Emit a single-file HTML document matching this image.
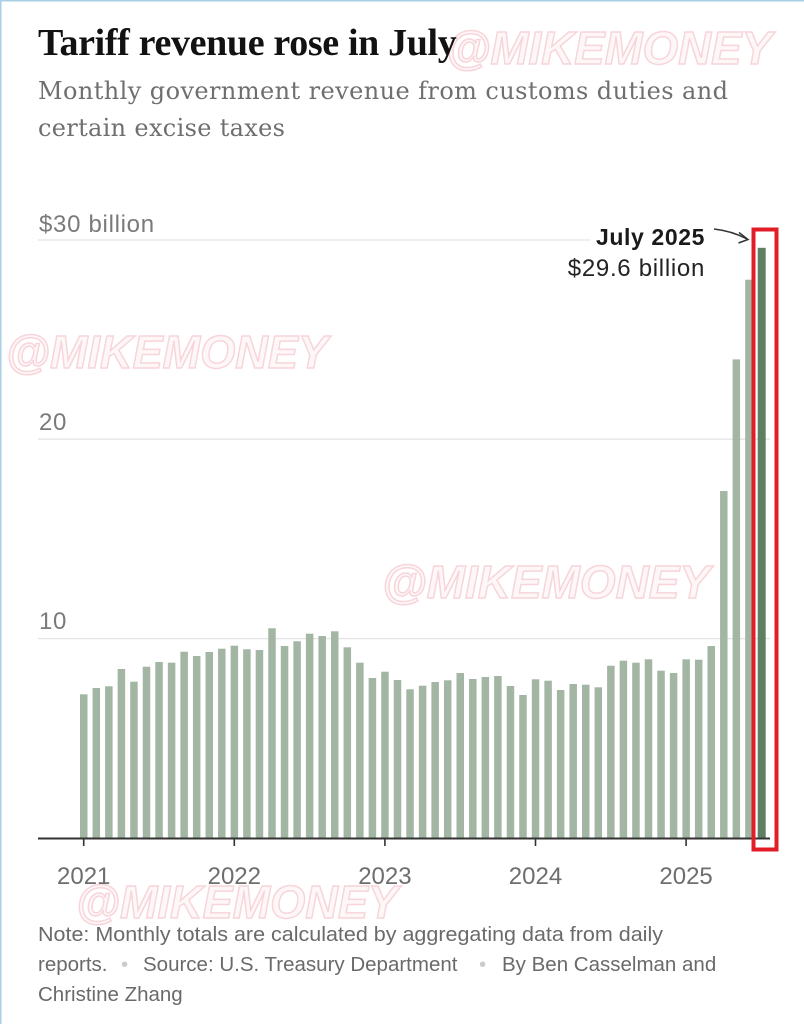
<!DOCTYPE html>
<html>
<head>
<meta charset="utf-8">
<style>
  html, body { margin: 0; padding: 0; background: #ffffff; }
  body { width: 804px; height: 1024px; overflow: hidden; }
  svg { display: block; }
</style>
</head>
<body>
<svg width="804" height="1024" viewBox="0 0 804 1024" xmlns="http://www.w3.org/2000/svg">
  <rect x="0" y="0" width="804" height="1024" fill="#ffffff"/>
  <!-- thin blue frame on top/left -->
  <rect x="0" y="0" width="804" height="1.5" fill="#a9cfe4"/>
  <rect x="0" y="0" width="1.5" height="1024" fill="#a9cfe4"/>

  <!-- watermarks -->
  <g font-family="'Liberation Sans', sans-serif" font-weight="bold" font-style="italic" fill="#fef6f7" stroke="#f6cbd1" stroke-width="1.5" opacity="0.8">
    <text x="446" y="64" font-size="46" textLength="326" lengthAdjust="spacingAndGlyphs">@MIKEMONEY</text>
    <text x="6" y="368" font-size="46" textLength="322" lengthAdjust="spacingAndGlyphs">@MIKEMONEY</text>
    <text x="382" y="598" font-size="46" textLength="328" lengthAdjust="spacingAndGlyphs">@MIKEMONEY</text>
    <text x="76" y="918" font-size="46" textLength="322" lengthAdjust="spacingAndGlyphs">@MIKEMONEY</text>
  </g>

  <!-- title -->
  <text x="38" y="55" font-family="'Liberation Serif', serif" font-weight="bold" font-size="38" letter-spacing="-0.35" fill="#121212">Tariff revenue rose in July</text>
  <!-- subtitle -->
  <g font-family="'DejaVu Serif', 'Liberation Serif', serif" font-size="24" fill="#6f6f6f">
    <text x="38" y="99" textLength="690" lengthAdjust="spacing">Monthly government revenue from customs duties and</text>
    <text x="38" y="136" textLength="247" lengthAdjust="spacing">certain excise taxes</text>
  </g>

  <!-- gridlines -->
  <g stroke="#e4e4e4" stroke-width="1.3">
    <line x1="38" y1="240" x2="590" y2="240"/>
    <line x1="38" y1="439.2" x2="770" y2="439.2"/>
    <line x1="38" y1="638.6" x2="770" y2="638.6"/>
  </g>

  <!-- y labels -->
  <g font-family="'Liberation Sans', sans-serif" font-size="24" fill="#7a7a7a">
    <text x="39" y="232" letter-spacing="0.7">$30 billion</text>
    <text x="39" y="430" letter-spacing="0.7">20</text>
    <text x="39" y="629" letter-spacing="0.7">10</text>
  </g>

  <!-- bars -->
  <g fill="#a3b6a4">
    <rect x="80.0" y="694.3" width="7.5" height="143.7"/>
    <rect x="92.55" y="688" width="7.5" height="150"/>
    <rect x="105.1" y="686.3" width="7.5" height="151.7"/>
    <rect x="117.65" y="669" width="7.5" height="169"/>
    <rect x="130.2" y="681.7" width="7.5" height="156.3"/>
    <rect x="142.75" y="666.7" width="7.5" height="171.3"/>
    <rect x="155.3" y="662" width="7.5" height="176"/>
    <rect x="167.85" y="662.7" width="7.5" height="175.3"/>
    <rect x="180.4" y="651.7" width="7.5" height="186.3"/>
    <rect x="192.95" y="656" width="7.5" height="182"/>
    <rect x="205.5" y="652" width="7.5" height="186"/>
    <rect x="218.05" y="648.7" width="7.5" height="189.3"/>
    <rect x="230.6" y="645.7" width="7.5" height="192.3"/>
    <rect x="243.15" y="649.3" width="7.5" height="188.7"/>
    <rect x="255.7" y="650" width="7.5" height="188"/>
    <rect x="268.25" y="628.3" width="7.5" height="209.7"/>
    <rect x="280.8" y="646" width="7.5" height="192"/>
    <rect x="293.35" y="641.3" width="7.5" height="196.7"/>
    <rect x="305.9" y="633.7" width="7.5" height="204.3"/>
    <rect x="318.45" y="636" width="7.5" height="202"/>
    <rect x="331.0" y="631.3" width="7.5" height="206.7"/>
    <rect x="343.55" y="647.3" width="7.5" height="190.7"/>
    <rect x="356.1" y="662.7" width="7.5" height="175.3"/>
    <rect x="368.65" y="678" width="7.5" height="160"/>
    <rect x="381.2" y="671.7" width="7.5" height="166.3"/>
    <rect x="393.75" y="680" width="7.5" height="158"/>
    <rect x="406.3" y="689.3" width="7.5" height="148.7"/>
    <rect x="418.85" y="685.7" width="7.5" height="152.3"/>
    <rect x="431.4" y="682" width="7.5" height="156"/>
    <rect x="443.95" y="680.3" width="7.5" height="157.7"/>
    <rect x="456.5" y="673" width="7.5" height="165"/>
    <rect x="469.05" y="679" width="7.5" height="159"/>
    <rect x="481.6" y="677" width="7.5" height="161"/>
    <rect x="494.15" y="676" width="7.5" height="162"/>
    <rect x="506.7" y="686" width="7.5" height="152"/>
    <rect x="519.25" y="695" width="7.5" height="143"/>
    <rect x="531.8" y="679.3" width="7.5" height="158.7"/>
    <rect x="544.35" y="680.7" width="7.5" height="157.3"/>
    <rect x="556.9" y="690" width="7.5" height="148"/>
    <rect x="569.45" y="684" width="7.5" height="154"/>
    <rect x="582.0" y="684.7" width="7.5" height="153.3"/>
    <rect x="594.55" y="687.3" width="7.5" height="150.7"/>
    <rect x="607.1" y="665.7" width="7.5" height="172.3"/>
    <rect x="619.65" y="660.7" width="7.5" height="177.3"/>
    <rect x="632.2" y="662.7" width="7.5" height="175.3"/>
    <rect x="644.75" y="659.3" width="7.5" height="178.7"/>
    <rect x="657.3" y="670.7" width="7.5" height="167.3"/>
    <rect x="669.85" y="673" width="7.5" height="165"/>
    <rect x="682.4" y="659.3" width="7.5" height="178.7"/>
    <rect x="694.95" y="659.7" width="7.5" height="178.3"/>
    <rect x="707.5" y="646" width="7.5" height="192"/>
    <rect x="720.05" y="491" width="7.5" height="347"/>
    <rect x="732.6" y="359.4" width="7.5" height="478.6"/>
    <rect x="745.15" y="279.7" width="7.5" height="558.3"/>
  </g>
  <rect x="757.7" y="247.8" width="8" height="590.2" fill="#5f7f62"/>

  <!-- axis baseline and ticks -->
  <line x1="38" y1="838.5" x2="770" y2="838.5" stroke="#333333" stroke-width="2"/>
  <g stroke="#333333" stroke-width="1.6">
    <line x1="83.7" y1="838" x2="83.7" y2="846"/>
    <line x1="234.3" y1="838" x2="234.3" y2="846"/>
    <line x1="384.9" y1="838" x2="384.9" y2="846"/>
    <line x1="535.5" y1="838" x2="535.5" y2="846"/>
    <line x1="686.1" y1="838" x2="686.1" y2="846"/>
  </g>

  <!-- year labels -->
  <g font-family="'Liberation Sans', sans-serif" font-size="24" fill="#6e6e6e" text-anchor="middle">
    <text x="83.7" y="884">2021</text>
    <text x="234.3" y="884">2022</text>
    <text x="384.9" y="884">2023</text>
    <text x="535.5" y="884">2024</text>
    <text x="686.1" y="884">2025</text>
  </g>

  <!-- annotation -->
  <g font-family="'Liberation Sans', sans-serif" text-anchor="end" fill="#1a1a1a">
    <text x="705" y="245" font-size="23" font-weight="bold" letter-spacing="0.6">July 2025</text>
    <text x="705" y="276" font-size="24" letter-spacing="0.7" fill="#222222">$29.6 billion</text>
  </g>
  <!-- arrow -->
  <path d="M 714 229 Q 732 231 747 239" fill="none" stroke="#333333" stroke-width="1.5"/>
  <path d="M 739 232.5 L 748 239.5 L 738.5 243" fill="none" stroke="#333333" stroke-width="1.5"/>

  <!-- red highlight box -->
  <rect x="753.5" y="229.5" width="23" height="620" fill="none" stroke="#e11d27" stroke-width="4"/>

  <!-- footer -->
  <g font-family="'Liberation Sans', sans-serif" font-size="20.5" fill="#6a6a6a">
    <text x="38" y="941" textLength="625" lengthAdjust="spacingAndGlyphs">Note: Monthly totals are calculated by aggregating data from daily</text>
    <text x="38" y="971">
      <tspan>reports.</tspan>
      <tspan x="121" fill="#cccccc">•</tspan>
      <tspan x="143">Source: U.S. Treasury Department</tspan>
      <tspan x="479" fill="#cccccc">•</tspan>
      <tspan x="502">By Ben Casselman and</tspan>
    </text>
    <text x="38" y="1001">Christine Zhang</text>
  </g>
</svg>
</body>
</html>
